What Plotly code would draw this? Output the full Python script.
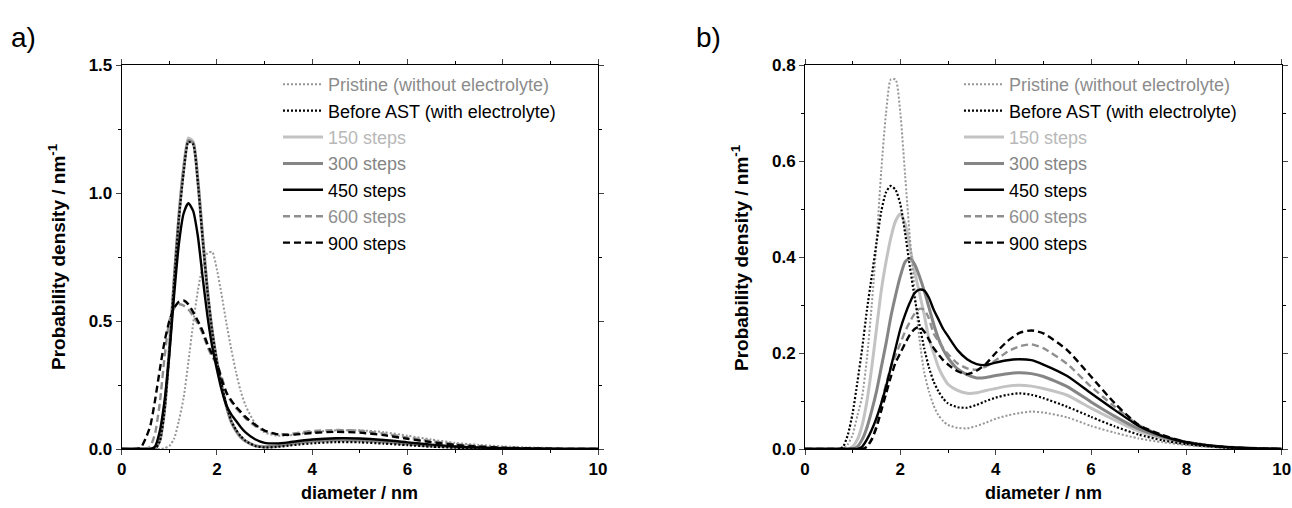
import plotly.graph_objects as go

# ---------------- data ----------------
names = ["Pristine (without electrolyte)", "Before AST (with electrolyte)",
         "150 steps", "300 steps", "450 steps", "600 steps", "900 steps"]

xa = [0, 0.3, 0.4, 0.5, 0.6, 0.7, 0.8, 0.9, 1.0, 1.1, 1.2, 1.3, 1.4, 1.5, 1.6, 1.7,
      1.8, 1.9, 2.0, 2.1, 2.2, 2.3, 2.4, 2.5, 2.6, 2.8, 3.0, 3.25, 3.5, 3.75, 4.0,
      4.5, 5.0, 5.5, 6.0, 6.5, 7.0, 7.5, 8.0, 8.5, 9.0, 9.5, 10.0]

a_pristine = [0, 0, 0, 0, 0, 0, 0, 0.003, 0.012, 0.04, 0.11, 0.2, 0.34, 0.49, 0.62, 0.715,
              0.765, 0.77, 0.70, 0.60, 0.49, 0.39, 0.30, 0.225, 0.17, 0.10, 0.065, 0.052, 0.053, 0.06, 0.066,
              0.073, 0.073, 0.066, 0.052, 0.037, 0.024, 0.016, 0.01, 0.006, 0.004, 0.002, 0.001]
a_before = [0, 0, 0, 0, 0, 0, 0.03, 0.15, 0.38, 0.65, 0.9, 1.08, 1.2, 1.19, 1.04, 0.82,
            0.62, 0.46, 0.34, 0.25, 0.17, 0.11, 0.075, 0.05, 0.032, 0.012, 0.006, 0.008, 0.013, 0.018, 0.022,
            0.027, 0.026, 0.021, 0.015, 0.009, 0.005, 0.003, 0.002, 0.001, 0, 0, 0]
a_150 = [0, 0, 0, 0, 0, 0, 0.035, 0.16, 0.39, 0.66, 0.91, 1.1, 1.215, 1.2, 1.05, 0.83,
         0.62, 0.46, 0.34, 0.245, 0.165, 0.105, 0.07, 0.045, 0.03, 0.012, 0.008, 0.01, 0.016, 0.022, 0.027,
         0.032, 0.031, 0.026, 0.019, 0.012, 0.007, 0.004, 0.002, 0.001, 0, 0, 0]
a_300 = [0, 0, 0, 0, 0, 0, 0.033, 0.155, 0.385, 0.655, 0.905, 1.09, 1.205, 1.195, 1.045, 0.825,
         0.62, 0.46, 0.34, 0.247, 0.168, 0.108, 0.072, 0.047, 0.031, 0.013, 0.009, 0.012, 0.019, 0.026, 0.031,
         0.036, 0.035, 0.029, 0.021, 0.013, 0.008, 0.004, 0.002, 0.001, 0, 0, 0]
a_450 = [0, 0, 0, 0, 0, 0.01, 0.07, 0.19, 0.37, 0.6, 0.8, 0.92, 0.96, 0.93, 0.83, 0.67,
         0.52, 0.40, 0.31, 0.23, 0.17, 0.135, 0.11, 0.085, 0.065, 0.038, 0.024, 0.022, 0.026, 0.032, 0.037,
         0.042, 0.041, 0.035, 0.026, 0.017, 0.01, 0.006, 0.003, 0.002, 0.001, 0, 0]
a_600 = [0, 0, 0, 0, 0.01, 0.06, 0.18, 0.36, 0.5, 0.55, 0.565, 0.56, 0.545, 0.52, 0.49, 0.45,
         0.40, 0.36, 0.33, 0.28, 0.22, 0.185, 0.16, 0.14, 0.12, 0.09, 0.07, 0.058, 0.058, 0.064, 0.07,
         0.074, 0.071, 0.06, 0.045, 0.031, 0.019, 0.011, 0.006, 0.003, 0.002, 0.001, 0]
a_900 = [0, 0, 0.005, 0.04, 0.09, 0.19, 0.31, 0.42, 0.5, 0.55, 0.575, 0.58, 0.565, 0.535, 0.5, 0.46,
         0.41, 0.37, 0.335, 0.27, 0.22, 0.19, 0.165, 0.145, 0.125, 0.095, 0.072, 0.058, 0.055, 0.058, 0.063,
         0.067, 0.064, 0.054, 0.04, 0.027, 0.016, 0.009, 0.005, 0.003, 0.001, 0, 0]

xb = [0, 0.7, 0.8, 0.9, 1.0, 1.1, 1.2, 1.3, 1.4, 1.5, 1.6, 1.7, 1.8, 1.9, 2.0, 2.1, 2.2,
      2.3, 2.4, 2.5, 2.6, 2.7, 2.8, 2.9, 3.0, 3.2, 3.4, 3.6, 3.8, 4.0, 4.25, 4.5, 4.75,
      5.0, 5.5, 6.0, 6.5, 7.0, 7.5, 8.0, 8.5, 9.0, 9.5, 10.0]

b_pristine = [0, 0, 0, 0.01, 0.03, 0.07, 0.11, 0.19, 0.3, 0.43, 0.58, 0.70, 0.77, 0.77, 0.70, 0.57, 0.44,
              0.33, 0.23, 0.16, 0.12, 0.09, 0.07, 0.058, 0.05, 0.044, 0.043, 0.048, 0.055, 0.063, 0.07, 0.075, 0.078,
              0.076, 0.066, 0.048, 0.034, 0.022, 0.014, 0.008, 0.004, 0.002, 0.001, 0]
b_before = [0, 0, 0.005, 0.03, 0.075, 0.14, 0.21, 0.29, 0.36, 0.43, 0.495, 0.535, 0.548, 0.54, 0.51, 0.45, 0.38,
            0.315, 0.26, 0.21, 0.17, 0.14, 0.12, 0.105, 0.095, 0.087, 0.086, 0.092, 0.1, 0.107, 0.113, 0.116, 0.113,
            0.106, 0.088, 0.067, 0.047, 0.03, 0.018, 0.01, 0.005, 0.002, 0.001, 0]
b_150 = [0, 0, 0, 0, 0.005, 0.02, 0.05, 0.1, 0.17, 0.25, 0.33, 0.39, 0.44, 0.475, 0.49, 0.47, 0.42,
         0.37, 0.325, 0.28, 0.23, 0.2, 0.17, 0.15, 0.135, 0.122, 0.116, 0.117, 0.122, 0.126, 0.131, 0.133, 0.131,
         0.126, 0.112, 0.085, 0.06, 0.037, 0.022, 0.012, 0.006, 0.003, 0.001, 0]
b_300 = [0, 0, 0, 0, 0, 0.005, 0.02, 0.045, 0.08, 0.12, 0.17, 0.22, 0.275, 0.32, 0.36, 0.39, 0.397,
         0.385, 0.36, 0.33, 0.295, 0.26, 0.23, 0.207, 0.19, 0.167, 0.155, 0.148, 0.149, 0.153, 0.157, 0.159, 0.157,
         0.151, 0.13, 0.098, 0.068, 0.042, 0.025, 0.014, 0.007, 0.003, 0.001, 0]
b_450 = [0, 0, 0, 0, 0, 0, 0.005, 0.02, 0.04, 0.065, 0.095, 0.13, 0.17, 0.21, 0.25, 0.28, 0.305,
         0.325, 0.332, 0.33, 0.315, 0.29, 0.27, 0.25, 0.235, 0.206, 0.187, 0.177, 0.175, 0.18, 0.185, 0.187, 0.185,
         0.176, 0.152, 0.116, 0.081, 0.048, 0.027, 0.014, 0.007, 0.003, 0.001, 0]
b_600 = [0, 0, 0, 0, 0, 0, 0, 0.005, 0.02, 0.05, 0.095, 0.135, 0.17, 0.195, 0.22, 0.245, 0.265,
         0.282, 0.292, 0.29, 0.272, 0.24, 0.225, 0.21, 0.198, 0.178, 0.168, 0.165, 0.172, 0.185, 0.203, 0.214, 0.218,
         0.21, 0.177, 0.13, 0.088, 0.05, 0.028, 0.015, 0.008, 0.003, 0.001, 0]
b_900 = [0, 0, 0, 0, 0, 0, 0, 0.005, 0.02, 0.045, 0.08, 0.115, 0.15, 0.18, 0.2, 0.22, 0.238,
         0.25, 0.255, 0.245, 0.228, 0.21, 0.197, 0.185, 0.176, 0.162, 0.156, 0.163, 0.178, 0.2, 0.225, 0.242, 0.247,
         0.241, 0.206, 0.151, 0.095, 0.05, 0.029, 0.014, 0.007, 0.003, 0.001, 0]

xticks = [0, 2, 4, 6, 8, 10]

# ---------------- styles ----------------
styles = [
    dict(color="#969696", width=2, dash="2px,2px", text="#8c8c8c"),   # pristine
    dict(color="#000000", width=2.2, dash="2px,2px", text="#000000"), # before AST
    dict(color="#c3c3c3", width=3, dash="solid", text="#b8b8b8"),     # 150
    dict(color="#858585", width=3, dash="solid", text="#858585"),     # 300
    dict(color="#000000", width=2.4, dash="solid", text="#000000"),   # 450
    dict(color="#8f8f8f", width=2.4, dash="7px,4px", text="#8f8f8f"), # 600
    dict(color="#000000", width=2.4, dash="7px,4px", text="#000000"), # 900
]
draw_order = [2, 3, 5, 0, 4, 6, 1]

W, H = 1292, 508


def px(x):
    return x / W


def py(y):
    return 1 - y / H


fig = go.Figure()

panels = [
    ("x", "y", "legend", xa, [a_pristine, a_before, a_150, a_300, a_450, a_600, a_900]),
    ("x2", "y2", "legend2", xb, [b_pristine, b_before, b_150, b_300, b_450, b_600, b_900]),
]
for xref, yref, leg, xs, series in panels:
    for i in draw_order:
        s = styles[i]
        fig.add_trace(go.Scatter(
            x=xs, y=series[i], mode="lines", xaxis=xref, yaxis=yref,
            line=dict(color=s["color"], width=s["width"], dash=s["dash"],
                      shape="spline", smoothing=0.6),
            name=f"<span style='color:{s['text']}'>{names[i]}</span>",
            legend=leg, legendrank=i + 1, hoverinfo="skip",
        ))

tickfont = dict(family="Liberation Sans, Arial", size=17, color="black", weight="bold")
common_x = dict(range=[0, 10], tickvals=xticks, ticks="outside", ticklen=5, tickwidth=1,
                showline=True, linecolor="black", linewidth=1, mirror="ticks",
                showgrid=False, zeroline=False, tickfont=tickfont, automargin=False,
                minor=dict(dtick=1, ticks="outside", ticklen=3, tickcolor="black"))
common_y = dict(ticks="outside", ticklen=5, tickwidth=1, showline=True, linecolor="black",
                linewidth=1, mirror="ticks", showgrid=False, zeroline=False, automargin=False,
                tickfont=tickfont, tickformat=".1f")

legfont = dict(family="Liberation Sans, Arial", size=18, color="black")
ydom = [py(449), py(65)]
xdom_a = [px(121.7), px(598)]
xdom_b = [px(805), px(1281.7)]
fig.update_layout(
    width=W, height=H, margin=dict(l=0, r=0, t=0, b=0, autoexpand=False),
    paper_bgcolor="white", plot_bgcolor="white",
    xaxis=dict(domain=xdom_a, anchor="y", **common_x),
    yaxis=dict(domain=ydom, anchor="x", range=[0, 1.5], dtick=0.5,
               minor=dict(dtick=0.25, ticks="outside", ticklen=3, tickcolor="black"), **common_y),
    xaxis2=dict(domain=xdom_b, anchor="y2", **common_x),
    yaxis2=dict(domain=ydom, anchor="x2", range=[0, 0.8], dtick=0.2,
                minor=dict(dtick=0.1, ticks="outside", ticklen=3, tickcolor="black"), **common_y),
    legend=dict(x=px(278), y=py(66), xanchor="left", yanchor="top", bgcolor="rgba(0,0,0,0)",
                font=legfont, tracegroupgap=0, itemwidth=40),
    legend2=dict(x=px(959), y=py(66), xanchor="left", yanchor="top", bgcolor="rgba(0,0,0,0)",
                 font=legfont, tracegroupgap=0, itemwidth=40),
    showlegend=True,
)

title_font = dict(family="Liberation Sans, Arial", size=18, color="black", weight="bold")
ytitle_font = dict(family="Liberation Sans, Arial", size=19, color="black", weight="bold")
label_font = dict(family="Liberation Sans, Arial", size=28, color="black")
for txt, xx in [("a)", 9), ("b)", 694)]:
    fig.add_annotation(text=txt, x=px(xx), y=py(38), xref="paper", yref="paper",
                       xanchor="left", yanchor="middle", showarrow=False, font=label_font)

for dom in [xdom_a, xdom_b]:
    fig.add_annotation(text="diameter / nm", x=(dom[0] + dom[1]) / 2, y=py(493), xref="paper", yref="paper",
                       xanchor="center", yanchor="middle", showarrow=False, font=title_font)
for xx in [57, 740]:
    fig.add_annotation(text="Probability density / nm<sup>-1</sup>", x=px(xx), y=(ydom[0] + ydom[1]) / 2,
                       xref="paper", yref="paper", xanchor="center", yanchor="middle",
                       textangle=-90, showarrow=False, font=ytitle_font)

fig.write_html("out.html",
               config={"displayModeBar": False},
               post_script="document.documentElement.style.margin='0';"
                           "document.body.style.margin='0';"
                           "document.body.style.overflow='hidden';")
